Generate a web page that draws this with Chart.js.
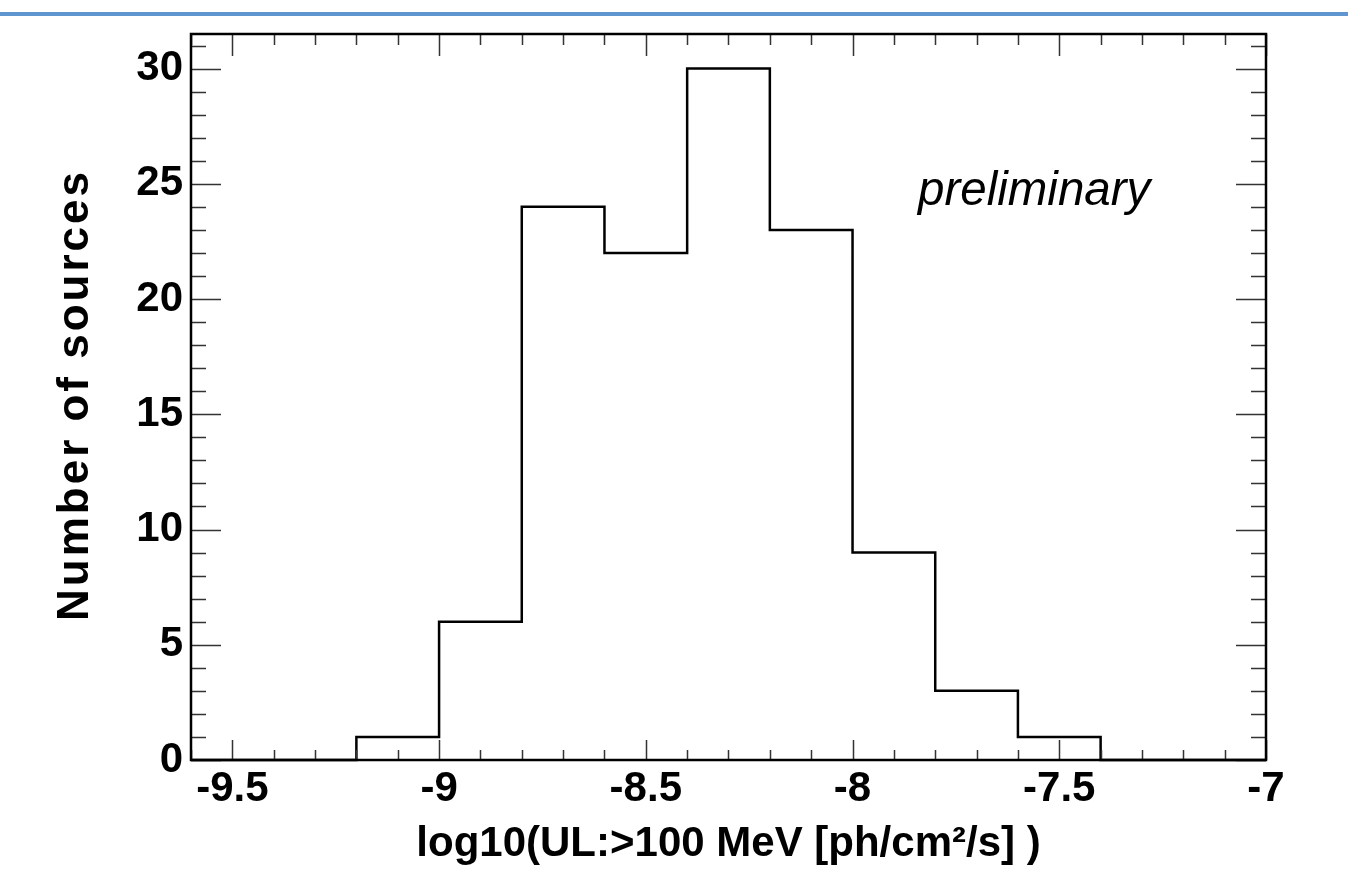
<!DOCTYPE html>
<html>
<head>
<meta charset="utf-8">
<script src="https://cdn.jsdelivr.net/npm/chart.js@4.4.1/dist/chart.umd.min.js"></script>
<style>
  html, body { margin: 0; padding: 0; background: #fff; }
  #c { display: block; }
</style>
</head>
<body>
<canvas id="c" width="1348" height="870"></canvas>
<script>
// histogram bins (lower edges + final upper edge) and counts
var binEdges = [-9.6, -9.4, -9.2, -9.0, -8.8, -8.6, -8.4, -8.2, -8.0, -7.8, -7.6, -7.4, -7.2, -7.0];
var counts   = [0, 0, 1, 6, 24, 22, 30, 23, 9, 3, 1, 0, 0];
var xTickValues = [-9.5, -9, -8.5, -8, -7.5, -7];
var yTickValues = [0, 5, 10, 15, 20, 25, 30];

var FONT = '"Liberation Sans", Arial, Helvetica, sans-serif';

var points = binEdges.map(function (e, i) {
    return { x: e, y: counts[Math.min(i, counts.length - 1)] };
});

// ROOT style frame: inner ticks on all four sides, titles, labels
var rootFrame = {
    id: 'rootFrame',
    beforeDraw: function (chart) {
        var ctx = chart.ctx;
        ctx.save();
        ctx.fillStyle = '#fff';
        ctx.fillRect(0, 0, chart.width, chart.height);
        ctx.fillStyle = '#6096cf';
        ctx.fillRect(0, 12, chart.width, 4);
        ctx.restore();
    },
    afterDatasetsDraw: function (chart) {
        var ctx = chart.ctx, a = chart.chartArea;
        var x = chart.scales.x, y = chart.scales.y;
        ctx.save();
        ctx.strokeStyle = '#333';
        ctx.lineWidth = 1.5;
        ctx.beginPath();
        for (var i = -96; i <= -70; i++) {
            var px = Math.round(x.getPixelForValue(i / 10)) + 0.5;
            var major = i % 5 === 0;
            ctx.moveTo(px, a.bottom); ctx.lineTo(px, a.bottom - (major ? 20 : 10));
            ctx.moveTo(px, a.top); ctx.lineTo(px, a.top + (major ? 22 : 11));
        }
        for (var j = 0; j <= 31; j++) {
            var py = Math.round(y.getPixelForValue(j)) + 0.5;
            var len = j % 5 === 0 ? 30 : 15;
            ctx.moveTo(a.left, py); ctx.lineTo(a.left + len, py);
            ctx.moveTo(a.right, py); ctx.lineTo(a.right - len, py);
        }
        ctx.stroke();

        ctx.strokeStyle = '#000';
        ctx.lineWidth = 2.5;
        ctx.strokeRect(a.left, a.top, a.right - a.left, a.bottom - a.top);

        // y title (spaced out like the original)
        ctx.fillStyle = '#000';
        ctx.font = 'bold 44px ' + FONT;
        ctx.translate(88, (a.top + a.bottom) / 2 - 2);
        ctx.rotate(-Math.PI / 2);
        ctx.textAlign = 'center';
        ctx.textBaseline = 'alphabetic';
        ctx.letterSpacing = '3px';
        ctx.fillText('Number of sources', 0, 0);
        ctx.restore();

        ctx.save();
        ctx.fillStyle = '#000';
        ctx.font = 'italic 47.5px ' + FONT;
        ctx.textAlign = 'left';
        ctx.textBaseline = 'alphabetic';
        ctx.fillText('preliminary', 918, 205);
        ctx.restore();
    }
};

var ctx = document.getElementById('c');
var chart = new Chart(ctx, {
    type: 'line',
    data: {
        datasets: [{
            data: points,
            stepped: 'before',
            borderColor: '#000',
            borderWidth: 2.5,
            pointRadius: 0,
            fill: false,
            clip: false
        }]
    },
    options: {
        responsive: false,
        animation: false,
        layout: { padding: { left: 0, right: 82, top: 34, bottom: 0 } },
        plugins: { legend: { display: false }, tooltip: { enabled: false } },
        scales: {
            x: {
                type: 'linear',
                min: -9.6,
                max: -7,
                afterBuildTicks: function (s) {
                    s.ticks = xTickValues.map(function (v) { return { value: v }; });
                },
                afterFit: function (s) { s.height = 110; },
                grid: { display: false, drawTicks: false },
                border: { display: false },
                ticks: {
                    autoSkip: false,
                    maxRotation: 0,
                    padding: 4,
                    color: '#000',
                    font: { family: FONT, size: 42, weight: 'bold' },
                    callback: function (v) { return String(v); }
                },
                title: {
                    display: true,
                    text: 'log10(UL:>100 MeV [ph/cm²/s] )',
                    color: '#000',
                    font: { family: FONT, size: 42, weight: 'bold' },
                    padding: { top: 0, bottom: 0 }
                }
            },
            y: {
                min: 0,
                max: 31.5,
                afterBuildTicks: function (s) {
                    s.ticks = yTickValues.map(function (v) { return { value: v }; });
                },
                afterFit: function (s) { s.width = 191; },
                grid: { display: false, drawTicks: false },
                border: { display: false },
                ticks: {
                    padding: 8,
                    color: '#000',
                    font: { family: FONT, size: 42, weight: 'bold' },
                    callback: function (v) { return String(v); }
                }
            }
        }
    },
    plugins: [rootFrame]
});
</script>
</body>
</html>
